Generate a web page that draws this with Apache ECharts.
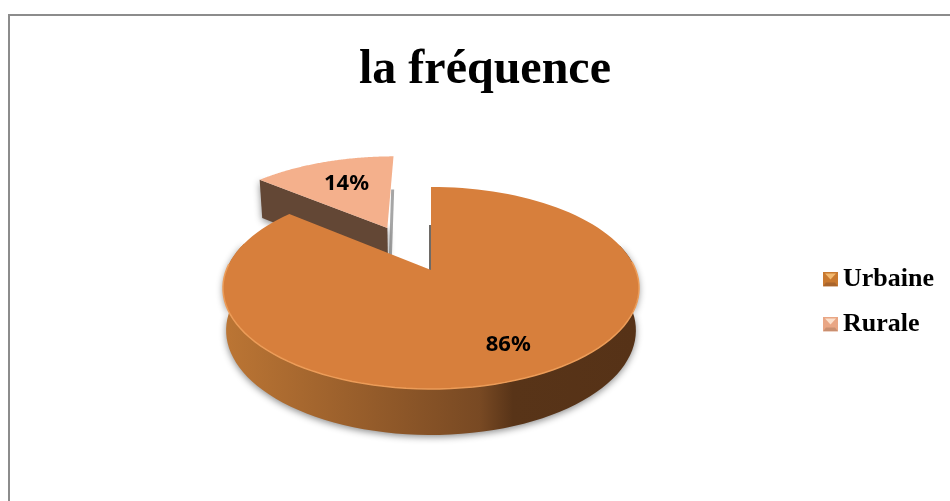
<!DOCTYPE html>
<html>
<head>
<meta charset="utf-8">
<title>la fréquence</title>
<script src="https://cdn.jsdelivr.net/npm/echarts@6/dist/echarts.min.js"></script>
<style>
  html, body { margin: 0; padding: 0; background: #fff; }
  #main { width: 950px; height: 501px; }
</style>
</head>
<body>
<div id="main"></div>
<script>
var categories = ['Urbaine', 'Rurale'];
var values = [86, 14];
var title_text = 'la fréquence';

var top_colors = ['#d77f3c', '#f4b08c'];
var cut_colors = ['#5a3518', '#634735'];
var sliver_styles = [
  { dx: -1, width: 2, color: '#6e6a66' },
  { dx: 2, width: 3, color: '#a6a6a6' }
];
var icon_colors = [
  { top: '#f3b96f', side: '#c9792f', bottom: '#a9652c' },
  { top: '#fbe0cc', side: '#e9a684', bottom: '#c98f70' }
];
var explode = [0, 0.514];
var explode_shift = [0, -0.012];
var label_radius = [0.74, 0.65];

// the pie lies on a plane seen in perspective, unit circle -> pixels
var view = { cx: 431, cy: 270, a: 204.7, b: 97.8, k: 0.178, depth: 41.7, shrink: 0.985 };
var total = values.reduce(function (s, v) { return s + v; }, 0);

function project(X, Y) {
  var d = 1 + view.k * Y;
  return [view.cx + view.a * X / d, view.cy - view.b * Y / d, d];
}
function upper(p) {
  return project(p[0], p[1]).slice(0, 2);
}
function lower(p) {
  var q = project(p[0], p[1]);
  return [view.cx + (q[0] - view.cx) * view.shrink, q[1] + view.depth / Math.sqrt(q[2])];
}

function renderSlice(index) {
  return function (params, api) {
    var val = api.value(0);
    var before = 0;
    for (var i = 0; i < index; i++) before += values[i];
    var start = before / total * Math.PI * 2;
    var end = (before + val) / total * Math.PI * 2;
    var mid = (start + end) / 2;
    var ox = Math.sin(mid) * explode[index] + explode_shift[index];
    var oy = Math.cos(mid) * explode[index];

    var rim = [];
    var steps = 120;
    for (var s = 0; s <= steps; s++) {
      var t = start + (end - start) * s / steps;
      rim.push([ox + Math.sin(t), oy + Math.cos(t)]);
    }
    var apex = [ox, oy];
    var children = [];

    function wall(points, fill) {
      children.push({
        type: 'polygon',
        shape: { points: points.map(upper).concat(points.map(lower).reverse()) },
        style: {
          fill: fill,
          shadowBlur: 7,
          shadowColor: 'rgba(0,0,0,0.45)',
          shadowOffsetY: 2
        }
      });
    }

    // thin far side of the gap, the rest of that cut is turned away
    var far = index === 0 ? rim[0] : rim[steps];
    var sl = sliver_styles[index];
    var far_mid = upper([(apex[0] + far[0]) / 2, (apex[1] + far[1]) / 2]);
    var far_low = lower(apex);
    children.push({
      type: 'polyline',
      shape: { points: [[far_mid[0] + sl.dx, far_mid[1]], [far_low[0] + sl.dx, far_low[1]]] },
      style: { fill: null, stroke: sl.color, lineWidth: sl.width }
    });

    // near cut face
    wall([apex, rim[0]], cut_colors[index]);

    // outer wall, only the part turned to the viewer
    var front = rim.filter(function (p) { return p[1] < 0.3; });
    if (front.length > 1) {
      wall(front, new echarts.graphic.LinearGradient(226, 0, 636, 0, [
        { offset: 0, color: '#bb7534' },
        { offset: 0.62, color: '#784923' },
        { offset: 0.7, color: '#583418' },
        { offset: 1, color: '#563217' }
      ], true));
    }

    // top face
    children.push({
      type: 'polygon',
      shape: { points: [upper(apex)].concat(rim.map(upper)) },
      style: { fill: top_colors[index] }
    });

    // light edge along the front of the top face
    var edge = rim.filter(function (p) { return p[1] < 0.1; });
    if (edge.length > 1) {
      children.push({
        type: 'polyline',
        shape: { points: edge.map(upper) },
        style: { fill: null, stroke: '#ec9c58', lineWidth: 1.5 }
      });
    }

    // percent label
    var lp = upper([ox + Math.sin(mid) * label_radius[index], oy + Math.cos(mid) * label_radius[index]]);
    children.push({
      type: 'text',
      x: lp[0] + (index === 0 ? 4 : 3),
      y: lp[1],
      style: {
        text: Math.round(val / total * 100) + '%',
        font: 'bold 22px "Noto Sans"',
        fill: '#000',
        textAlign: 'center',
        textVerticalAlign: 'middle'
      }
    });

    return { type: 'group', children: children };
  };
}

function legendIcon(c) {
  var svg = '<svg xmlns="http://www.w3.org/2000/svg" width="15" height="15">' +
    '<rect width="15" height="15" fill="' + c.side + '"/>' +
    '<polygon points="2,2 13,2 7.5,8" fill="' + c.top + '"/>' +
    '<polygon points="0,15 15,15 12,11 3,11" fill="' + c.bottom + '"/>' +
    '</svg>';
  return 'image://data:image/svg+xml;charset=utf-8,' + encodeURIComponent(svg);
}

var chart_freq = echarts.init(document.getElementById('main'), null, { renderer: 'canvas' });

var option_freq = {
  animation: false,
  backgroundColor: '#fff',
  title: {
    text: title_text,
    left: 480,
    top: 42,
    textAlign: 'center',
    textStyle: { fontFamily: '"Liberation Serif"', fontWeight: 'bold', fontSize: 48, color: '#000' }
  },
  legend: {
    orient: 'vertical',
    left: 823,
    top: 266,
    padding: 0,
    itemWidth: 15,
    itemHeight: 15,
    itemGap: 19,
    selectedMode: false,
    textStyle: { fontFamily: '"Liberation Serif"', fontWeight: 'bold', fontSize: 26, color: '#000' },
    data: categories.map(function (name, i) {
      return { name: name, icon: legendIcon(icon_colors[i]) };
    })
  },
  graphic: [{
    type: 'polyline',
    silent: true,
    shape: { points: [[9, 501], [9, 15], [950, 15]] },
    style: { fill: null, stroke: '#8c8c8c', lineWidth: 2 }
  }],
  series: categories.map(function (name, i) {
    return {
      name: name,
      type: 'custom',
      coordinateSystem: 'none',
      silent: true,
      z: 3 - i,
      itemStyle: { color: top_colors[i] },
      renderItem: renderSlice(i),
      data: [[values[i]]]
    };
  })
};

chart_freq.setOption(option_freq);
window.addEventListener('resize', chart_freq.resize);
</script>
</body>
</html>
